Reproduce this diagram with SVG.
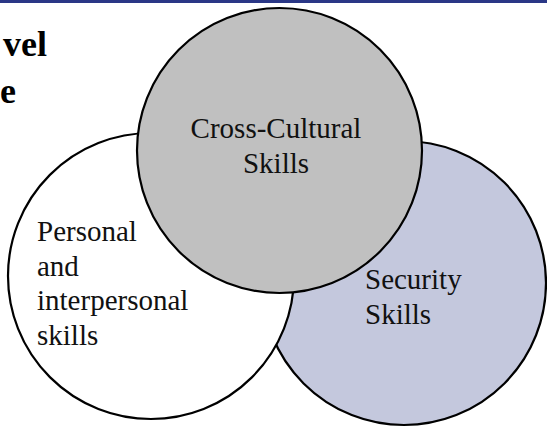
<svg xmlns="http://www.w3.org/2000/svg" width="547" height="427" viewBox="0 0 547 427">
  <style>
    .ring { stroke: #000000; stroke-width: 2.2; }
    .label { font-family: "Liberation Serif", "Times New Roman", serif; font-size: 29px; fill: #111111; }
    .heading { font-family: "Liberation Serif", "Times New Roman", serif; font-size: 36px; font-weight: bold; fill: #000000; }
  </style>
  <rect x="0" y="0" width="547" height="427" fill="#ffffff"/>
  <!-- top rule -->
  <rect x="0" y="0" width="547" height="3" fill="#2a3786"/>

  <!-- heading text at the left edge -->
  <text class="heading" x="47" y="56" text-anchor="end">vel</text>
  <text class="heading" x="0" y="102.5">e</text>

  <g id="security">
    <circle class="ring" cx="404" cy="283" r="142" fill="#c4c8dd"/>
    <text class="label" x="365" y="288.5">Security</text>
    <text class="label" x="365" y="323.5">Skills</text>
  </g>

  <g id="personal">
    <circle class="ring" cx="151" cy="276" r="143" fill="#ffffff"/>
    <text class="label" x="37" y="240.5">Personal</text>
    <text class="label" x="37" y="275.5">and</text>
    <text class="label" x="37" y="310">interpersonal</text>
    <text class="label" x="37" y="345">skills</text>
  </g>

  <g id="cross-cultural">
    <circle class="ring" cx="279.5" cy="150.5" r="142.5" fill="#c0c0c0"/>
    <text class="label" x="276" y="138" text-anchor="middle">Cross-Cultural</text>
    <text class="label" x="276" y="172.5" text-anchor="middle">Skills</text>
  </g>

  <g id="connectors"/>
</svg>
